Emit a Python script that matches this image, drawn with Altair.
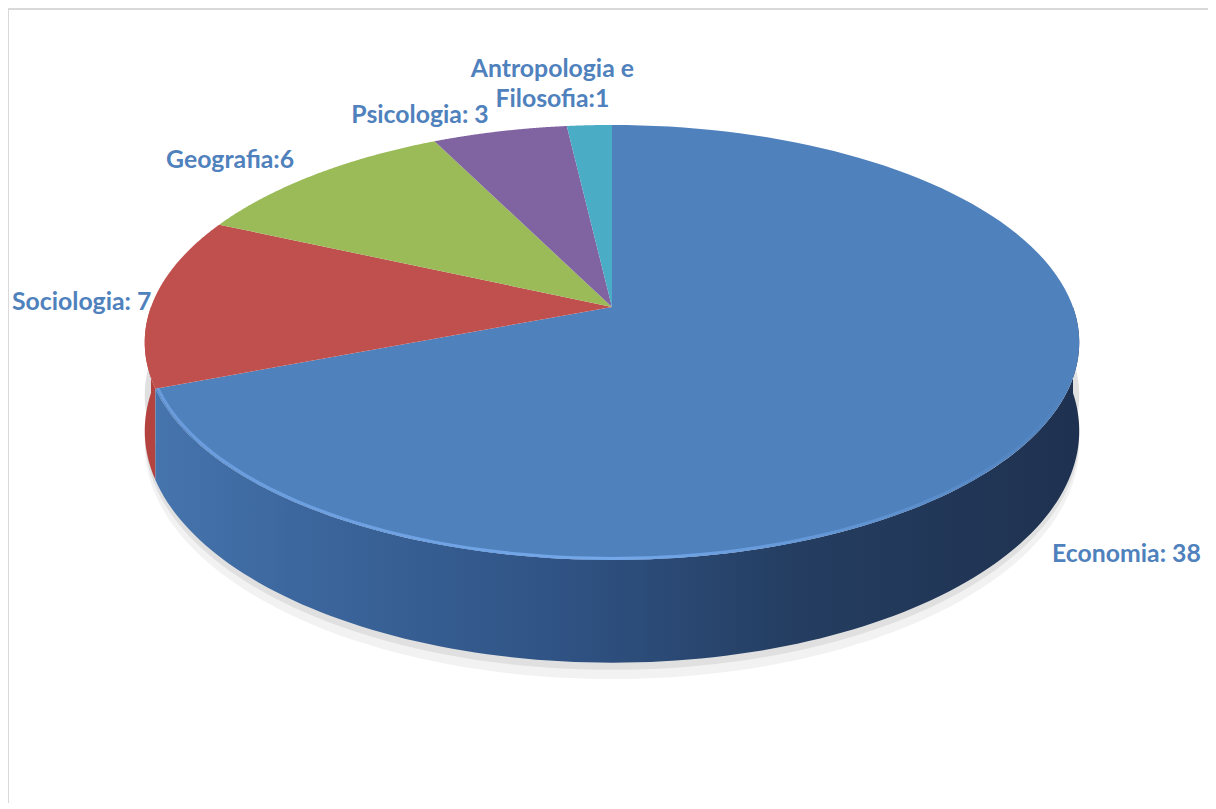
import altair as alt
import pandas as pd

# ---- data ----
categories = ["Economia", "Sociologia", "Geografia", "Psicologia", "Antropologia e Filosofia"]
values = [38, 7, 6, 3, 1]
labels = ["Economia: 38", "Sociologia: 7", "Geografia:6", "Psicologia: 3", "Antropologia e\nFilosofia:1"]
colors = ["#4f81bd", "#c0504d", "#9bbb59", "#8064a2", "#4bacc6"]

# ---- layout of the tilted pie (chart pixels) ----
W, H = 1200, 795
CX, CY = 604, 299      # pie centre
A, B, K = 461, 211.7, 0.163   # horizontal radius, vertical radius, perspective
D0 = 86                 # thickness of the pie
N = 120                 # points per arc

df = pd.DataFrame({"cat": categories, "value": values, "order": list(range(len(values))), "label": labels})

xs = alt.X("px:Q", scale=alt.Scale(domain=[0, W], nice=False, zero=False), axis=None)
ys = alt.Y("py:Q", scale=alt.Scale(domain=[0, H], nice=False, zero=False, reverse=True), axis=None)
col = alt.Color("cat:N", scale=alt.Scale(domain=categories, range=colors), legend=None)

base = (
    alt.Chart(df)
    .transform_joinaggregate(total="sum(value)")
    .transform_window(cum="sum(value)", sort=[alt.SortField("order")], frame=[None, 0])
    .transform_calculate(
        a0="(datum.cum - datum.value) / datum.total * 2 * PI",
        a1="datum.cum / datum.total * 2 * PI",
    )
)


def project(chain, rexpr="datum.r", depexpr="0"):
    return chain.transform_calculate(
        u=f"({rexpr}) * sin(datum.ang)",
        v=f"-({rexpr}) * cos(datum.ang)",
    ).transform_calculate(
        w=f"1 - {K} * datum.v",
    ).transform_calculate(
        px=f"{CX} + {A} * datum.u / datum.w",
        py=f"{CY} + {B} * datum.v / datum.w + ({depexpr}) * {D0} / datum.w",
    )


# top face wedges
top = project(
    base.transform_calculate(idx=f"sequence(0, {N + 2})")
    .transform_flatten(["idx"])
    .transform_calculate(
        ang=f"datum.a0 + (datum.a1 - datum.a0) * (datum.idx - 1) / {N}",
        r="datum.idx == 0 ? 0 : 1",
    )
).mark_line(filled=True, strokeWidth=0).encode(x=xs, y=ys, order=alt.Order("idx:Q"), color=col)


def side_chain(dtop="0", dbot="1"):
    c = (
        base.transform_calculate(s="max(datum.a0, PI / 2)", e="min(datum.a1, 3 * PI / 2)")
        .transform_filter("datum.s < datum.e")
        .transform_calculate(idx=f"sequence(0, {2 * N + 2})")
        .transform_flatten(["idx"])
        .transform_calculate(
            ang=f"datum.idx <= {N} ? datum.s + (datum.e - datum.s) * datum.idx / {N} : datum.e - (datum.e - datum.s) * (datum.idx - {N + 1}) / {N}",
            dep=f"datum.idx <= {N} ? {dtop} : {dbot}",
            r="1",
        )
    )
    return project(c, depexpr="datum.dep")


econ_grad = {
    "gradient": "linear",
    "x1": 0, "y1": 0, "x2": 1, "y2": 0,
    "stops": [
        {"offset": 0.0, "color": "#4674ad"},
        {"offset": 0.15, "color": "#3c679e"},
        {"offset": 0.45, "color": "#2f5283"},
        {"offset": 0.7, "color": "#243d60"},
        {"offset": 1.0, "color": "#1f3150"},
    ],
}

shadow1 = side_chain("0.6", "1.16").mark_line(filled=True, strokeWidth=0, color="#000000", opacity=0.05).encode(
    x=xs, y=ys, order=alt.Order("idx:Q"), detail="cat:N")
shadow2 = side_chain("0.6", "1.07").mark_line(filled=True, strokeWidth=0, color="#000000", opacity=0.07).encode(
    x=xs, y=ys, order=alt.Order("idx:Q"), detail="cat:N")

side_econ = side_chain().transform_filter("datum.cat == 'Economia'").mark_line(
    filled=True, strokeWidth=0, color=econ_grad).encode(x=xs, y=ys, order=alt.Order("idx:Q"))
side_other = side_chain().transform_filter("datum.cat != 'Economia'").mark_line(
    filled=True, strokeWidth=0, color="#b4433f").encode(x=xs, y=ys, order=alt.Order("idx:Q"), detail="cat:N")

rim_grad = {
    "gradient": "linear",
    "x1": 0, "y1": 0, "x2": 1, "y2": 0,
    "stops": [
        {"offset": 0.0, "color": "#6d9fe0"},
        {"offset": 0.5, "color": "#78acee"},
        {"offset": 1.0, "color": "#4f81bd"},
    ],
}
rim = project(
    base.transform_filter("datum.cat == 'Economia'")
    .transform_calculate(s="max(datum.a0, PI / 2)", e="min(datum.a1, 3 * PI / 2)")
    .transform_calculate(idx=f"sequence(0, {N + 1})")
    .transform_flatten(["idx"])
    .transform_calculate(ang=f"datum.s + (datum.e - datum.s) * datum.idx / {N}", r="0.995")
).mark_line(strokeWidth=3, color=rim_grad, opacity=0.9).encode(x=xs, y=ys, order=alt.Order("idx:Q"))

# labels: anchored at the middle of each slice's rim, nudged
lab_base = project(
    base.transform_calculate(ang="(datum.a0 + datum.a1) / 2", r="1")
)
label_style = dict(font="Lato", fontSize=24.8, fontWeight="bold", color="#4f81bd", lineHeight=30, baseline="middle")
label_nudge = {
    "Economia": dict(align="left", dx=21, dy=116),
    "Sociologia": dict(align="right", dx=-2, dy=2),
    "Geografia": dict(align="right", dx=-21, dy=-14),
    "Psicologia": dict(align="right", dx=-11, dy=-15),
    "Antropologia e Filosofia": dict(align="center", dx=-37, dy=-55),
}
label_layers = [
    lab_base.transform_filter(alt.datum.cat == c)
    .mark_text(lineBreak="\n", **label_style, **label_nudge[c])
    .encode(x=xs, y=ys, text="label:N")
    for c in categories
]

border_top = alt.Chart(df).mark_rule(color="#d9d9d9", strokeWidth=2).encode(
    x=alt.value(0), x2=alt.value(W), y=alt.value(1))
border_left = alt.Chart(df).mark_rule(color="#d9d9d9", strokeWidth=2).encode(
    x=alt.value(0), y=alt.value(0), y2=alt.value(H))

chart = alt.layer(
    shadow1, shadow2, side_other, side_econ, top, rim, *label_layers, border_top, border_left
).properties(
    width=W, height=H, padding=0, autosize=alt.AutoSizeParams(type="none"), background="white"
).configure_view(strokeWidth=0)

chart.save("out.html", embed_options={"renderer": "svg", "actions": False})
